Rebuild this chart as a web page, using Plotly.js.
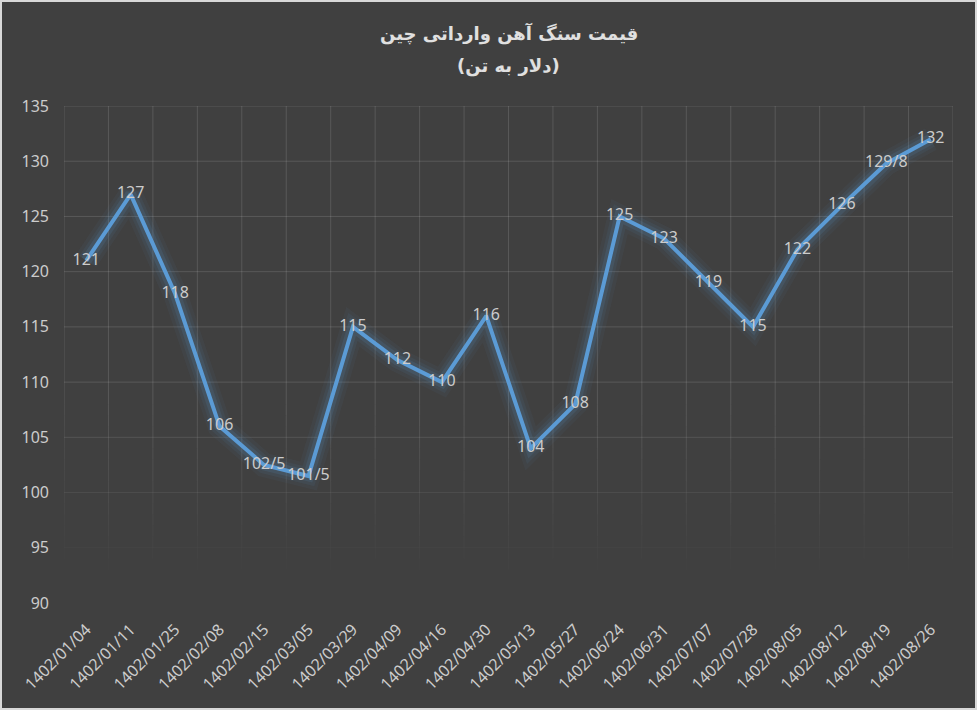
<!DOCTYPE html>
<html>
<head>
<meta charset="utf-8">
<script src="https://cdn.plot.ly/plotly-3.0.1.min.js"></script>
<style>
    html, body { margin: 0; padding: 0; background: #d9d9d9; }
    #chart { width: 973px; height: 706px; border: 2px solid #d9d9d9; background: #404040; }
</style>
</head>
<body>
<div id="chart"></div>
<script>
// Chart data
const dates = [
    '1402/01/04', '1402/01/11', '1402/01/25', '1402/02/08', '1402/02/15',
    '1402/03/05', '1402/03/29', '1402/04/09', '1402/04/16', '1402/04/30',
    '1402/05/13', '1402/05/27', '1402/06/24', '1402/06/31', '1402/07/07',
    '1402/07/28', '1402/08/05', '1402/08/12', '1402/08/19', '1402/08/26'
];
const prices = [121, 127, 118, 106, 102.5, 101.5, 115, 112, 110, 116,
                104, 108, 125, 123, 119, 115, 122, 126, 129.8, 132];
const yTicks = [90, 95, 100, 105, 110, 115, 120, 125, 130, 135];

const titleLine1 = 'قیمت سنگ آهن وارداتی چین';
const titleLine2 = '(دلار به تن)';

// Persian style decimal separator in the labels
const priceLabels = prices.map(v => String(v).replace('.', '/'));

const lineColor = '#5B9BD5';
const bgColor = '#404040';
const textColor = '#cccccc';
const gridAlpha = 0.13;

// soft glow under the main line
const glow = [
    { width: 24, color: 'rgba(91,155,213,0.05)' },
    { width: 17, color: 'rgba(91,155,213,0.07)' },
    { width: 11, color: 'rgba(91,155,213,0.12)' }
];

const traces = glow.map(g => ({
    x: dates,
    y: prices,
    type: 'scatter',
    mode: 'lines',
    line: { color: g.color, width: g.width },
    hoverinfo: 'skip'
}));

traces.push({
    x: dates,
    y: prices,
    type: 'scatter',
    mode: 'lines',
    line: { color: lineColor, width: 4 },
    hoverinfo: 'skip'
});

traces.push({
    x: dates,
    y: prices,
    type: 'scatter',
    mode: 'text',
    text: priceLabels,
    textposition: 'middle center',
    textfont: { family: 'Noto Sans, sans-serif', size: 16, color: textColor },
    hoverinfo: 'skip'
});

// Gridlines drawn as shapes so they can fade out towards the bottom
const fadeTop = 108, fadeBottom = 92;
function gridAlphaAt(y) {
    if (y >= fadeTop) return gridAlpha;
    if (y <= fadeBottom) return 0;
    return gridAlpha * (y - fadeBottom) / (fadeTop - fadeBottom);
}
function gridColor(a) {
    return 'rgba(255,255,255,' + a.toFixed(3) + ')';
}

const gridShapes = [];
yTicks.forEach(t => {
    const a = gridAlphaAt(t);
    if (a <= 0) return;
    gridShapes.push({
        type: 'line', layer: 'below',
        xref: 'paper', x0: 0, x1: 1,
        yref: 'y', y0: t, y1: t,
        line: { color: gridColor(a), width: 1 }
    });
});
const fadeSteps = 16;
for (let i = 0; i <= dates.length; i++) {
    const xPos = i - 0.5;
    gridShapes.push({
        type: 'line', layer: 'below',
        xref: 'x', x0: xPos, x1: xPos,
        yref: 'y', y0: fadeTop, y1: 135,
        line: { color: gridColor(gridAlpha), width: 1 }
    });
    const h = (fadeTop - fadeBottom) / fadeSteps;
    for (let s = 0; s < fadeSteps; s++) {
        const yHi = fadeTop - s * h;
        const yLo = yHi - h;
        gridShapes.push({
            type: 'line', layer: 'below',
            xref: 'x', x0: xPos, x1: xPos,
            yref: 'y', y0: yLo, y1: yHi,
            line: { color: gridColor(gridAlphaAt((yHi + yLo) / 2)), width: 1 }
        });
    }
}

const layout = {
    width: 973,
    height: 706,
    margin: { t: 104, r: 22, b: 105, l: 62 },
    paper_bgcolor: bgColor,
    plot_bgcolor: bgColor,
    showlegend: false,
    font: { family: 'Noto Sans, sans-serif', size: 16, color: textColor },
    xaxis: {
        type: 'category',
        showgrid: false,
        zeroline: false,
        showline: false,
        ticks: '',
        tickangle: -45,
        ticklabelstandoff: 13,
        tickfont: { family: 'Noto Sans, sans-serif', size: 16, color: textColor },
        range: [-0.5, dates.length - 0.5],
        fixedrange: true
    },
    yaxis: {
        range: [90, 135],
        tickmode: 'array',
        tickvals: yTicks,
        ticktext: yTicks.map(String),
        showgrid: false,
        zeroline: false,
        showline: false,
        ticks: '',
        ticklabelstandoff: 14,
        tickfont: { family: 'Noto Sans, sans-serif', size: 16, color: textColor },
        fixedrange: true
    },
    shapes: gridShapes,
    annotations: [
        {
            text: '<b>' + titleLine1 + '</b>',
            xref: 'paper', yref: 'paper',
            x: 0.5, y: 1 + (104 - 32) / 497,
            xanchor: 'center', yanchor: 'middle',
            showarrow: false,
            font: { family: 'DejaVu Sans, sans-serif', size: 18, color: '#e0e0e0' }
        },
        {
            text: '<b>' + titleLine2 + '</b>',
            xref: 'paper', yref: 'paper',
            x: 0.5, y: 1 + (104 - 64) / 497,
            xanchor: 'center', yanchor: 'middle',
            showarrow: false,
            font: { family: 'DejaVu Sans, sans-serif', size: 18, color: '#e0e0e0' }
        }
    ]
};

Plotly.newPlot('chart', traces, layout, { displayModeBar: false, staticPlot: true });
</script>
</body>
</html>
